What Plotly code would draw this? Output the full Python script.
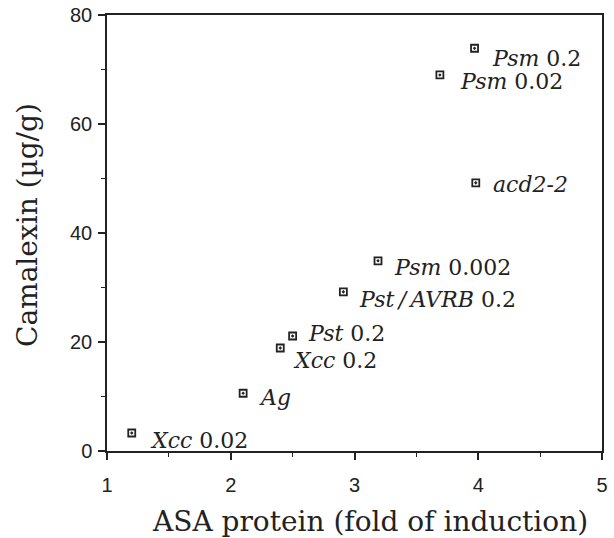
import plotly.graph_objects as go

# Data
labels_italic = ["Xcc", "Ag", "Xcc", "Pst", "Pst\u2009/\u2009AVRB", "Psm", "acd2-2", "Psm", "Psm"]
labels_dose = ["0.02", "", "0.2", "0.2", "0.2", "0.002", "", "0.02", "0.2"]
asa_fold = [1.2, 2.1, 2.4, 2.5, 2.91, 3.19, 3.98, 3.69, 3.97]
camalexin = [3.3, 10.6, 18.9, 21.1, 29.2, 34.9, 49.2, 69.0, 73.9]

# label offsets in pixels (dx right, dy down)
label_dx = [16, 14, 11, 13, 14, 14, 15, 18, 15]
label_dy = [7, 4, 12, -3, 8, 7, 2, 7, 10]

INK = "#222222"
SERIF = "DejaVu Serif"
SANS = "Liberation Sans"

fig = go.Figure()
fig.add_trace(go.Scatter(
    x=asa_fold, y=camalexin, mode="markers",
    marker=dict(symbol="square-open-dot", size=7, color=INK, line=dict(width=1.8, color=INK)),
    hoverinfo="skip", showlegend=False,
))

annotations = []
for it, dose, x, y, dx, dy in zip(labels_italic, labels_dose, asa_fold, camalexin, label_dx, label_dy):
    txt = f"<i>{it}</i>" + (f" {dose}" if dose else "")
    annotations.append(dict(
        x=x, y=y, xref="x", yref="y", text=txt, showarrow=False,
        xanchor="left", yanchor="middle", xshift=dx, yshift=-dy,
        font=dict(family=SERIF, size=22, color=INK),
    ))

annotations.append(dict(
    x=0.531, y=0, xref="paper", yref="paper", text="ASA protein (fold of induction)",
    showarrow=False, xanchor="center", yanchor="middle", yshift=-70,
    font=dict(family=SERIF, size=28, color=INK),
))
annotations.append(dict(
    x=0, y=0.5, xref="paper", yref="paper", text="Camalexin (µg/g)",
    showarrow=False, xanchor="center", yanchor="middle", xshift=-80, yshift=8, textangle=-90,
    font=dict(family=SERIF, size=28, color=INK),
))

fig.update_layout(
    width=614, height=538,
    margin=dict(l=107, r=12, t=15, b=87),
    paper_bgcolor="white", plot_bgcolor="white",
    annotations=annotations,
    xaxis=dict(
        range=[1, 5], dtick=1, tick0=1, showgrid=False, zeroline=False, automargin=False,
        showline=True, linecolor=INK, linewidth=1.5, mirror=True,
        ticks="outside", ticklen=7, tickwidth=1.5, tickcolor=INK,
        ticklabelstandoff=8, ticklabeloverflow="allow",
        tickfont=dict(family=SANS, size=20, color=INK),
        minor=dict(dtick=0.5, ticks="outside", ticklen=4, tickwidth=1.2, tickcolor=INK),
    ),
    yaxis=dict(
        range=[0, 80], dtick=20, tick0=0, showgrid=False, zeroline=False, automargin=False,
        showline=True, linecolor=INK, linewidth=1.5, mirror=True,
        ticks="outside", ticklen=7, tickwidth=1.5, tickcolor=INK,
        ticklabelstandoff=2, ticklabeloverflow="allow",
        tickfont=dict(family=SANS, size=20, color=INK),
        minor=dict(dtick=10, ticks="outside", ticklen=4, tickwidth=1.2, tickcolor=INK),
    ),
)

# remove the browser's default 8px body margin so the figure sits at the page corner
fig.write_html("out.html", config={"displayModeBar": False},
               post_script="document.body.style.margin='0';")
